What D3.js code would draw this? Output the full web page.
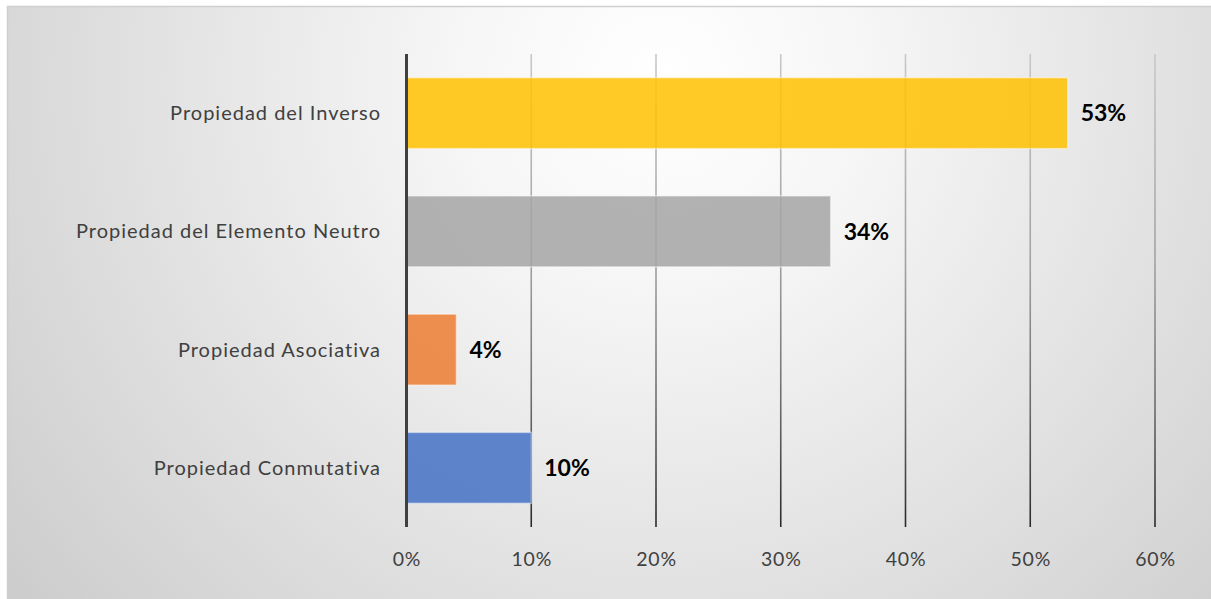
<!DOCTYPE html>
<html>
<head>
<meta charset="utf-8">
<script src="https://cdn.jsdelivr.net/npm/d3@7/dist/d3.min.js"></script>
<style>
  html, body { margin: 0; padding: 0; background: #ffffff; }
  svg { display: block; }
</style>
</head>
<body>
<svg id="chart" width="1211" height="599"></svg>
<script>
// Categories from top to bottom and their percentages
const categories = [
  "Propiedad del Inverso",
  "Propiedad del Elemento Neutro",
  "Propiedad Asociativa",
  "Propiedad Conmutativa"
];
const values = [53, 34, 4, 10];
const barColors = ["#FFC000", "#A5A5A5", "#ED7D31", "#4472C4"];
const tickValues = [0, 10, 20, 30, 40, 50, 60];

const W = 1211, H = 599;
const svg = d3.select("#chart");
const defs = svg.append("defs");

// Soft radial background fill
const bg = defs.append("radialGradient")
  .attr("id", "bgGrad")
  .attr("gradientUnits", "userSpaceOnUse")
  .attr("cx", 660).attr("cy", 80).attr("r", 820);
bg.append("stop").attr("offset", 0).attr("stop-color", "#ffffff");
bg.append("stop").attr("offset", 0.25).attr("stop-color", "#f6f6f6");
bg.append("stop").attr("offset", 1).attr("stop-color", "#cdcdcd");

const margin = { left: 406.5, right: W - 1155, top: 54, bottom: H - 527 };
const x = d3.scaleLinear().domain([0, 60]).range([margin.left, W - margin.right]);
const y = d3.scaleBand().domain(categories).range([margin.top, H - margin.bottom])
  .paddingInner(0.4).paddingOuter(0.2);

// Gridline shading runs from light at the top to dark at the bottom
const gl = defs.append("linearGradient")
  .attr("id", "gridGrad")
  .attr("gradientUnits", "userSpaceOnUse")
  .attr("x1", 0).attr("y1", margin.top).attr("x2", 0).attr("y2", H - margin.bottom);
gl.append("stop").attr("offset", 0).attr("stop-color", "#c8c8c8");
gl.append("stop").attr("offset", 0.45).attr("stop-color", "#a0a0a0");
gl.append("stop").attr("offset", 0.75).attr("stop-color", "#6a6a6a");
gl.append("stop").attr("offset", 1).attr("stop-color", "#2a2a2a");

// Background and frame
svg.append("rect").attr("x", 0).attr("y", 0).attr("width", W).attr("height", H).attr("fill", "#ffffff");
svg.append("rect")
  .attr("x", 7.5).attr("y", 6.5).attr("width", W + 10).attr("height", H + 10)
  .attr("fill", "url(#bgGrad)")
  .attr("stroke", "#cfcfcf").attr("stroke-width", 1.5);

// Vertical gridlines
svg.append("g").selectAll("line")
  .data(tickValues.filter(d => d > 0))
  .join("line")
  .attr("x1", d => x(d)).attr("x2", d => x(d))
  .attr("y1", margin.top).attr("y2", H - margin.bottom)
  .attr("stroke", "url(#gridGrad)").attr("stroke-width", 1.6);

// Bars
svg.append("g").selectAll("rect")
  .data(categories)
  .join("rect")
  .attr("x", x(0))
  .attr("y", d => y(d))
  .attr("width", (d, i) => x(values[i]) - x(0))
  .attr("height", y.bandwidth())
  .attr("fill", (d, i) => barColors[i])
  .attr("fill-opacity", 0.85)
  .attr("stroke", "#ffffff").attr("stroke-opacity", 0.45).attr("stroke-width", 1.5);

// Value axis line at 0%
svg.append("line")
  .attr("x1", x(0)).attr("x2", x(0))
  .attr("y1", margin.top).attr("y2", H - margin.bottom)
  .attr("stroke", "#404040").attr("stroke-width", 3);

// Bottom axis tick labels
const xAxis = d3.axisBottom(x).tickValues(tickValues).tickFormat(d => d + "%").tickSize(0).tickPadding(0);
const gx = svg.append("g").attr("transform", `translate(0, ${H - margin.bottom})`).call(xAxis);
gx.select(".domain").remove();
gx.selectAll("text")
  .attr("y", 39).attr("dy", 0)
  .attr("fill", "#404040")
  .style("font-family", "Lato, 'Open Sans', sans-serif")
  .style("font-size", "19.5px")
  .style("letter-spacing", "0.8px");

// Category labels
const yAxis = d3.axisLeft(y).tickSize(0).tickPadding(0);
const gy = svg.append("g").attr("transform", "translate(381, 0)").call(yAxis);
gy.select(".domain").remove();
gy.selectAll("text")
  .attr("dy", "0.35em")
  .attr("fill", "#404040")
  .style("font-family", "Lato, 'Open Sans', sans-serif")
  .style("font-size", "20px")
  .style("letter-spacing", "1px");

// Value labels
svg.append("g").selectAll("text")
  .data(categories)
  .join("text")
  .attr("x", (d, i) => x(values[i]) + 13)
  .attr("y", d => y(d) + y.bandwidth() / 2)
  .attr("dy", "0.36em")
  .attr("fill", "#000000")
  .style("font-family", "Lato, 'Open Sans', sans-serif")
  .style("font-weight", "bold")
  .style("font-size", "23px")
  .text((d, i) => values[i] + "%");
</script>
</body>
</html>
